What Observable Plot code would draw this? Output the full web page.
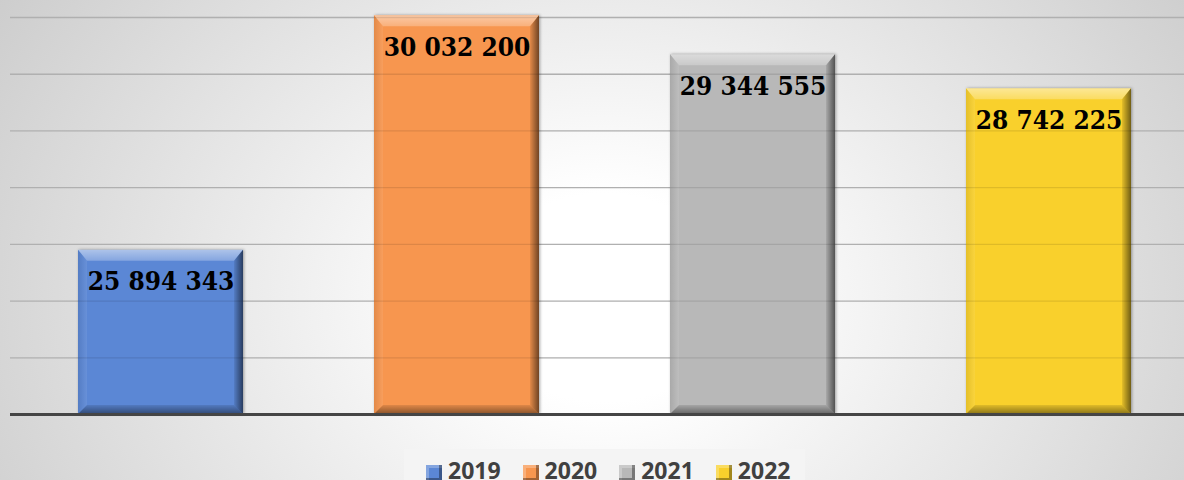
<!DOCTYPE html>
<html>
<head>
<meta charset="utf-8">
<script src="https://cdn.jsdelivr.net/npm/d3@7"></script>
<script src="https://cdn.jsdelivr.net/npm/@observablehq/plot@0.6"></script>
<style>
html, body { margin: 0; padding: 0; }
body {
  width: 1184px; height: 480px; overflow: hidden; position: relative;
  background: radial-gradient(ellipse 60% 120% at 51% 62%, #ffffff 18%, #cdcdcd 100%);
}
#chart svg { display: block; background: transparent; }
g[aria-label="text"] { font-stretch: condensed; }
#legendBox { position: absolute; left: 404px; top: 449px; width: 401px; height: 31px; background: #f4f4f4; }
#legend { position: absolute; left: 426px; top: 459px; display: flex; gap: 22px; }
.item { display: flex; align-items: flex-start; }
.sw { width: 16px; height: 16px; margin-top: 6px; margin-right: 6px;
  box-shadow: inset -3px -3px 0 rgba(0,0,0,0.35), inset 3px 3px 0 rgba(255,255,255,0.25); }
.lt { font-family: "Open Sans", sans-serif; font-weight: bold; font-size: 23px; line-height: 23px; color: #404040; }
</style>
</head>
<body>
<div id="chart"></div>
<div id="legendBox"></div>
<div id="legend"></div>
<script>
const years = ["2019", "2020", "2021", "2022"];
const values = [25894343, 30032200, 29344555, 28742225];
const colors = ["#5B87D5", "#F7964F", "#B8B8B8", "#F9D02C"];
const gridTicks = [24e6, 25e6, 26e6, 27e6, 28e6, 29e6, 30e6];
const yMin = 23e6, yMax = 30.3e6;

const data = years.map((year, i) => ({year, value: values[i], color: colors[i]}));
const fmt = v => d3.format(",")(v).replace(/,/g, " ");

const ns = "http://www.w3.org/2000/svg";
function bevel(index, scales, vals, dimensions, context, next) {
  const g = next(index, scales, vals, dimensions, context);
  const defs = document.createElementNS(ns, "defs");
  const grads = [
    ["bvTop", 0, 0, 0, 1, [["#fff", 0.5], ["#fff", 0.25]]],
    ["bvLeft", 0, 0, 1, 0, [["#000", 0.08], ["#fff", 0.08]]],
    ["bvRight", 0, 0, 1, 0, [["#000", 0.08], ["#000", 0.55]]],
    ["bvBottom", 0, 0, 0, 1, [["#000", 0.1], ["#000", 0.45]]]
  ];
  for (const [id, x1, y1, x2, y2, stops] of grads) {
    const lg = document.createElementNS(ns, "linearGradient");
    lg.setAttribute("id", id);
    lg.setAttribute("x1", x1); lg.setAttribute("y1", y1);
    lg.setAttribute("x2", x2); lg.setAttribute("y2", y2);
    stops.forEach(([c, o], k) => {
      const s = document.createElementNS(ns, "stop");
      s.setAttribute("offset", k / (stops.length - 1));
      s.setAttribute("stop-color", c);
      s.setAttribute("stop-opacity", o);
      lg.appendChild(s);
    });
    defs.appendChild(lg);
  }
  g.appendChild(defs);
  const rects = Array.from(g.querySelectorAll("rect"));
  rects.forEach(r => {
    const x = +r.getAttribute("x"), y = +r.getAttribute("y");
    const w = +r.getAttribute("width"), h = +r.getAttribute("height");
    const bt = 11, bs = 9, bb = 9;
    const polys = [
      [[[x, y], [x + w, y], [x + w - bs, y + bt], [x + bs, y + bt]], "url(#bvTop)"],
      [[[x, y], [x + bs, y + bt], [x + bs, y + h - bb], [x, y + h]], "url(#bvLeft)"],
      [[[x + w, y], [x + w, y + h], [x + w - bs, y + h - bb], [x + w - bs, y + bt]], "url(#bvRight)"],
      [[[x, y + h], [x + bs, y + h - bb], [x + w - bs, y + h - bb], [x + w, y + h]], "url(#bvBottom)"]
    ];
    for (const [pts, fill] of polys) {
      const p = document.createElementNS(ns, "polygon");
      p.setAttribute("points", pts.map(d => d.join(",")).join(" "));
      p.setAttribute("fill", fill);
      g.appendChild(p);
    }
  });
  g.style.filter = "drop-shadow(1.5px 0px 1.5px rgba(0,0,0,0.35))";
  return g;
}

const chart = Plot.plot({
  width: 1184,
  height: 440,
  marginTop: 0,
  marginBottom: 26,
  marginLeft: 10,
  marginRight: 0,
  style: {background: "transparent"},
  x: {domain: years, range: [11, 1198], paddingInner: 0.444, paddingOuter: 0.222, axis: null},
  y: {domain: [yMin, yMax], axis: null},
  color: {type: "identity"},
  marks: [
    Plot.ruleY(gridTicks, {stroke: "#c4c4c4", strokeWidth: 1.3}),
    Plot.barY(data, {x: "year", y1: d => yMin, y2: "value", fill: "color", render: bevel}),
    Plot.ruleY(gridTicks, {stroke: "#000", strokeOpacity: 0.1, strokeWidth: 1.3}),
    Plot.text(data, {
      x: "year", y: "value", text: d => fmt(d.value),
      dy: 40, lineAnchor: "bottom", textAnchor: "middle",
      fontFamily: "DejaVu Serif Condensed, DejaVu Serif, serif", fontWeight: "bold", fontSize: 26, fill: "#000"
    }),
    Plot.ruleY([yMin], {stroke: "#454545", strokeWidth: 3.2})
  ]
});
document.getElementById("chart").appendChild(chart);

const legend = document.getElementById("legend");
years.forEach((y, i) => {
  const item = document.createElement("div");
  item.className = "item";
  const sw = document.createElement("div");
  sw.className = "sw";
  sw.style.background = colors[i];
  const t = document.createElement("div");
  t.className = "lt";
  t.textContent = y;
  item.appendChild(sw);
  item.appendChild(t);
  legend.appendChild(item);
});
</script>
</body>
</html>
